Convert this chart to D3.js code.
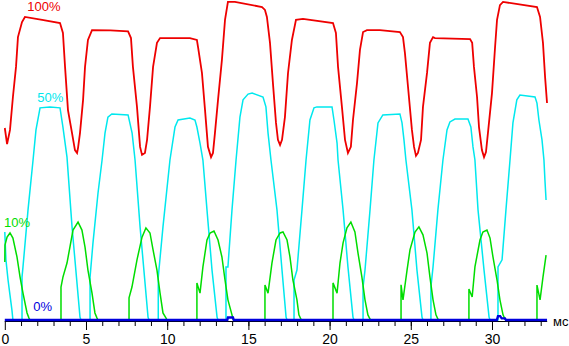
<!DOCTYPE html>
<html>
<head>
<meta charset="utf-8">
<script src="https://cdn.jsdelivr.net/npm/d3@7"></script>
<style>
  body { margin: 0; background: #fff; }
  svg { display: block; font-family: "Liberation Sans", Arial, sans-serif; }
</style>
</head>
<body>
<svg id="chart"></svg>
<script>
var width = 569, height = 346

// time in ms, level in % of the 0..100 scale
var red = [[0,60.0],[0.14,55.0],[0.32,59.4],[0.50,69.7],[0.69,79.1],[0.81,88.4],[1.06,93.1],[1.24,94.7],[2.3,93.8],[3.40,92.8],[3.58,89.7],[3.71,79.1],[3.89,65.6],[4.14,58.4],[4.32,53.1],[4.45,52.2],[4.51,53.8],[4.63,58.4],[4.82,68.8],[4.94,79.1],[5.12,87.5],[5.37,90.6],[6.5,90.5],[7.59,90.2],[7.77,88.1],[7.89,79.1],[8.14,66.6],[8.33,54.1],[8.45,51.6],[8.63,52.2],[8.76,56.3],[8.94,66.6],[9.13,79.1],[9.37,86.6],[9.56,88.1],[11.40,88.1],[11.83,87.5],[11.90,85.3],[12.14,77.2],[12.33,65.6],[12.51,54.1],[12.70,50.9],[12.82,52.2],[12.94,58.4],[13.13,68.8],[13.37,81.3],[13.56,93.8],[13.74,99.4],[14.17,99.4],[15.84,97.8],[16.02,96.9],[16.14,94.7],[16.33,86.6],[16.51,74.1],[16.70,61.6],[16.82,56.3],[16.95,54.7],[17.07,56.3],[17.25,63.4],[17.44,77.2],[17.68,87.5],[17.93,93.8],[18.36,94.1],[20.21,92.8],[20.39,89.7],[20.52,79.1],[20.76,66.6],[20.95,56.3],[21.13,52.2],[21.31,54.1],[21.44,62.5],[21.69,74.1],[21.87,84.4],[22.06,90.0],[22.30,90.6],[23.10,90.6],[24.33,90.0],[24.52,88.4],[24.64,83.4],[24.83,72.8],[25.07,59.4],[25.20,54.1],[25.32,51.3],[25.44,52.2],[25.63,56.3],[25.75,66.6],[26.00,77.2],[26.18,86.6],[26.37,88.4],[26.49,88.1],[28.65,87.8],[28.78,86.6],[28.89,79.1],[29.08,69.7],[29.20,60.3],[29.38,53.1],[29.51,50.9],[29.63,52.5],[29.75,58.4],[30.00,70.9],[30.19,85.3],[30.31,93.8],[30.49,98.4],[30.68,99.4],[32.77,97.8],[32.96,94.7],[33.14,86.6],[33.27,75.9],[33.39,67.8]]

var cyan = [[0,27.5],[0.07,18.8],[0.20,12.5],[0.32,7.8],[0.44,3.1],[0.50,0],
  [1.06,0],[1.06,13.4],[1.12,16.6],[1.43,34.4],[1.74,50],[1.92,59.4],[2.17,66.3],[2.78,66.6],[3.40,66.3],[3.58,60.3],[3.83,50.9],[4.14,29.1],[4.63,0.9],[4.69,0],
  [5.25,0],[5.25,13.4],[5.43,24.1],[5.74,39.7],[5.99,50],[6.17,58.4],[6.35,63.4],[6.59,64.4],[7.59,64.1],[7.84,58.4],[8.02,50],[8.33,29.1],[8.82,0.9],[8.88,0],
  [9.45,0],[9.45,13.4],[9.74,29.1],[10.17,50],[10.48,60.3],[10.67,62.5],[11.40,63.1],[11.71,62.5],[11.83,60.3],[12.02,55.3],[12.20,50],[12.45,34.4],[12.76,15.6],[13.07,0.9],[13.13,0],
  [13.62,0],[13.62,16.6],[13.74,16.6],[13.99,34.4],[14.24,50],[14.48,63.4],[14.67,68.8],[14.98,70.6],[15.23,70.9],[15.90,69.7],[16.08,66.6],[16.21,58.4],[16.39,50],[16.76,34.4],[17.07,15.6],[17.32,0.9],[17.38,0],
  [17.81,0],[17.81,12.5],[17.99,15.6],[18.30,34.4],[18.55,50],[18.79,62.5],[19.04,66.3],[19.22,66.6],[20.15,66.6],[20.27,62.5],[20.46,55.3],[20.52,50],[20.83,34.4],[21.13,16.6],[21.44,0.9],[21.50,0],
  [22.06,0],[22.06,10.3],[22.18,15.6],[22.49,34.4],[22.73,50],[22.98,61.6],[23.28,64.1],[24.33,64.4],[24.46,61.6],[24.58,56.3],[24.70,50],[25.07,34.4],[25.38,15.6],[25.69,0.9],[25.75,0],
  [26.24,0],[26.24,10.3],[26.37,16.6],[26.67,34.4],[26.98,50],[27.23,59.4],[27.41,61.9],[27.72,62.8],[28.52,62.8],[28.70,60.3],[28.83,54.1],[28.95,50],[29.14,34.4],[29.51,15.6],[29.82,0.9],[29.88,0],
  [30.37,0],[30.37,16.6],[30.62,18.8],[30.86,34.4],[31.11,50],[31.29,61.6],[31.53,68.8],[31.72,70.3],[32.65,69.7],[32.77,67.8],[32.89,62.5],[33.08,56.3],[33.20,50],[33.26,43.8],[33.33,37.5]]

var green = [[0,18.1],[0.01,23.4],[0.14,25.9],[0.32,27.2],[0.50,25.6],[0.75,19.7],[0.94,13.4],[1.12,8.4],[1.37,2.2],[1.49,0.6],[1.55,0],
  [3.46,0],[3.46,10.3],[3.58,13.4],[3.83,17.8],[4.01,22.8],[4.20,28.1],[4.51,30.6],[4.75,28.1],[4.94,22.8],[5.12,15.6],[5.37,8.4],[5.55,2.2],[5.68,0.6],[5.74,0],
  [7.65,0],[7.65,6.9],[7.83,10.3],[8.14,18.8],[8.45,25.9],[8.69,28.8],[8.94,27.2],[9.13,21.9],[9.37,15.6],[9.56,8.4],[9.74,2.2],[9.93,0.6],[9.99,0],
  [11.83,0],[11.83,11.6],[12.02,8.4],[12.20,16.6],[12.45,25],[12.64,27.2],[12.88,27.8],[13.13,25],[13.37,19.7],[13.56,12.5],[13.74,6.3],[13.99,1.6],[14.05,0.3],[14.11,0],
  [16.02,0],[16.02,10.9],[16.21,8.4],[16.45,17.8],[16.70,25],[16.95,27.2],[17.13,27.5],[17.38,25],[17.56,19.7],[17.74,12.5],[17.99,6.3],[18.11,1.6],[18.23,0.3],[18.30,0],
  [20.21,0],[20.21,11.6],[20.46,8.4],[20.64,17.8],[20.83,24.1],[21.07,28.8],[21.31,30.6],[21.56,27.5],[21.75,20.9],[21.99,13.4],[22.18,6.3],[22.36,1.6],[22.49,0.3],[22.55,0],
  [24.40,0],[24.40,11.0],[24.52,6.3],[24.77,15.6],[24.95,21.9],[25.26,27.5],[25.50,29.1],[25.75,26.6],[26.00,20.9],[26.18,13.4],[26.37,6.3],[26.55,1.6],[26.67,0.3],[26.74,0],
  [28.58,0],[28.58,9.7],[28.78,7.2],[28.95,16.6],[29.26,25],[29.44,27.5],[29.69,28.1],[29.88,25.6],[30.06,19.7],[30.31,12.5],[30.49,6.3],[30.68,1.6],[30.80,0.3],[30.86,0],
  [32.77,0],[32.77,10.9],[32.96,6.3],[33.14,13.4],[33.33,20.3]]

var blue = [[0,0],[13.7,0],[13.74,0.8],[14.05,0.8],[14.1,0],[30.3,0],[30.37,1.2],[30.5,1.2],[30.6,0.5],[30.8,0.5],[30.86,0],[33.39,0]]

var majorTicks = [0, 5, 10, 15, 20, 25, 30]
var minorTicks = d3.range(1, 34)
var unitLabel = "мс"

var series = [
    {name: "cyan", data: cyan, color: "#00e8ee", label: "50%", lx: 2.0, ly: 68, w: 1.5},
    {name: "green", data: green, color: "#00dd00", label: "10%", lx: -0.05, ly: 29, w: 1.5},
    {name: "red", data: red, color: "#ee0000", label: "100%", lx: 1.38, ly: 96.5, w: 1.8},
    {name: "blue", data: blue, color: "#0000dd", label: "0%", lx: 1.75, ly: 2.8, w: 2.4}
]

var svg = d3.select("#chart")
    .attr("width", width)
    .attr("height", height)

var x = d3.scaleLinear()
    .domain([0, 33.4])
    .range([4.8, 547.2])

var y = d3.scaleLinear()
    .domain([0, 100])
    .range([320, 0])

// axis: baseline plus short ticks every ms, long ones every 5 ms
var axis = svg.append("g")
    .attr("transform", "translate(0,321)")

axis.append("g")
    .call(d3.axisBottom(x).tickValues(minorTicks).tickSize(5).tickFormat(""))
    .call(g => g.select(".domain").remove())

axis.append("g")
    .call(d3.axisBottom(x).tickValues(majorTicks).tickSize(9).tickSizeOuter(0).tickPadding(4))
    .call(g => g.selectAll("text").attr("font-size", 14).attr("font-family", "Liberation Sans, Arial, sans-serif").attr("fill", "#000"))
    .call(g => g.select(".domain").attr("d", "M" + x.range()[0] + ",0.5H" + x.range()[1]))

axis.select(".tick text").attr("dx", "0.1em")

svg.append("text")
    .attr("x", 553)
    .attr("y", 326)
    .attr("font-size", 13)
    .attr("fill", "#000")
    .text(unitLabel)

var line = d3.line()
    .x(d => x(d[0]))
    .y(d => y(d[1]))

svg.selectAll("path.trace")
    .data(series)
    .enter()
    .append("path")
    .attr("class", "trace")
    .attr("fill", "none")
    .attr("stroke", d => d.color)
    .attr("stroke-width", d => d.w)
    .attr("stroke-linejoin", "miter")
    .attr("d", d => line(d.data))

svg.selectAll("text.label")
    .data(series)
    .enter()
    .append("text")
    .attr("class", "label")
    .attr("x", d => x(d.lx))
    .attr("y", d => y(d.ly))
    .attr("font-size", 13)
    .attr("fill", d => d.color)
    .text(d => d.label)
</script>
</body>
</html>
